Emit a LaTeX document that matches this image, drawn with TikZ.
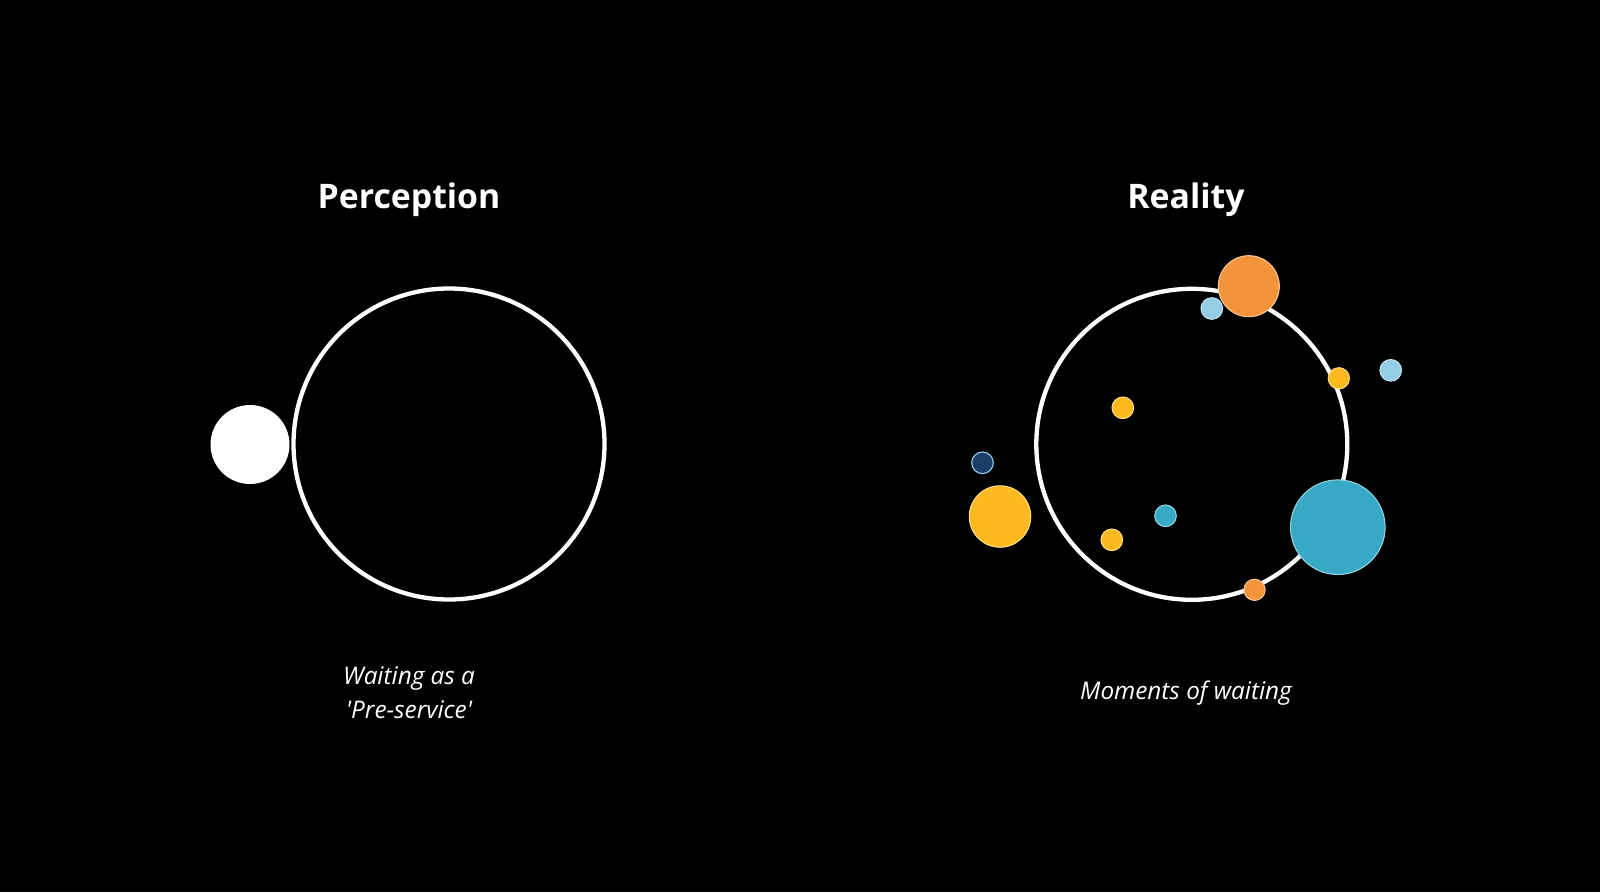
\documentclass[tikz,border=0pt]{standalone}
\usepackage{fontspec}
\setmainfont{Open Sans}
\definecolor{cOrange}{HTML}{F4943A}
\definecolor{cYellow}{HTML}{FDB91D}
\definecolor{cTeal}{HTML}{38A9C4}
\definecolor{cLight}{HTML}{93CDE6}
\definecolor{cNavy}{HTML}{1B3D68}
\tikzset{
  ring/.style={circle, draw=white, line width=4.3pt, inner sep=0pt, minimum size=#1},
  dot/.style={circle, inner sep=0pt, line width=1.1pt, minimum size=#1},
  orangedot/.style={dot=#1, fill=cOrange, draw=cOrange!55!white},
  yellowdot/.style={dot=#1, fill=cYellow, draw=cYellow!55!white},
  tealdot/.style={dot=#1, fill=cTeal, draw=cTeal!55!white},
  lightdot/.style={dot=#1, fill=cLight, draw=cLight!60!white},
  navydot/.style={dot=#1, fill=cNavy, draw=cLight},
  title/.style={text=white, anchor=base, font=\fontsize{33.8}{40}\selectfont\bfseries},
  caption/.style={text=white, anchor=base, font=\fontsize{24.3}{34}\selectfont\itshape},
}
\begin{document}
\begin{tikzpicture}[x=1pt,y=-1pt]
\fill[black] (0,0) rectangle (1600,892);
\useasboundingbox (0,0) rectangle (1600,892);
% Perception
\node[title] (ptitle) at (409,208.3) {Perception};
\node[ring=311] (pring) at (449,444) {};
\node[circle, fill=white, inner sep=0pt, minimum size=79] (pdot) at (250,444.5) {};
\node[caption] (pcap1) at (409,684.5) {Waiting as a};
\node[caption] (pcap2) at (409,718) {\textquotesingle Pre-service\textquotesingle};
% Reality
\node[title] (rtitle) at (1186,208.3) {Reality};
\node[ring=311] (rring) at (1191.8,444.3) {};
\node[orangedot=61] (d1) at (1248.8,286.2) {};
\node[lightdot=21.6] (d2) at (1211.8,308.5) {};
\node[yellowdot=21.2] (d3) at (1338.8,378.3) {};
\node[lightdot=21.6] (d4) at (1390.7,370.3) {};
\node[yellowdot=21.6] (d5) at (1122.8,407.8) {};
\node[navydot=21.6] (d6) at (982.5,462.8) {};
\node[yellowdot=61.4] (d7) at (1000,516.5) {};
\node[tealdot=21.6] (d8) at (1165.5,515.8) {};
\node[yellowdot=21.6] (d9) at (1111.8,539.8) {};
\node[tealdot=94.6] (d10) at (1337.8,527.2) {};
\node[orangedot=21.2] (d11) at (1254.5,589.8) {};
\node[caption] (rcap) at (1186,699.3) {Moments of waiting};
\end{tikzpicture}
\end{document}
